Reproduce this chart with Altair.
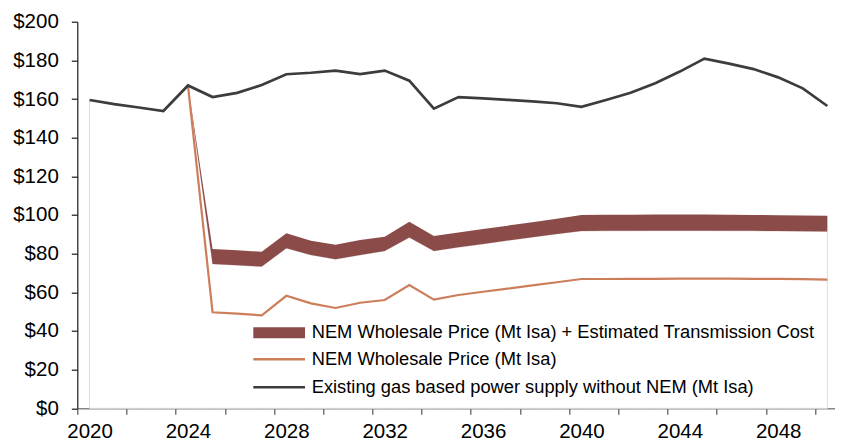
import altair as alt
import pandas as pd

# ---- data ----
years = [2020, 2021, 2022, 2023, 2024, 2025, 2026, 2027, 2028, 2029,
         2030, 2031, 2032, 2033, 2034, 2035, 2036, 2037, 2038, 2039,
         2040, 2041, 2042, 2043, 2044, 2045, 2046, 2047, 2048, 2049, 2050]

gas = [159.5, 157.4, 155.6, 153.8, 167.0, 161.0, 163.2, 167.2, 172.8, 173.6,
       174.7, 172.9, 174.7, 169.5, 155.0, 161.0, 160.3, 159.6, 158.8, 157.8,
       156.0, 159.5, 163.2, 168.2, 174.2, 180.9, 178.3, 175.5, 171.2, 165.5, 156.4]

nem_years = years[4:]
nem = [167.0, 49.7, 49.0, 48.1, 58.2, 54.3, 51.9, 54.6, 56.0, 63.8,
       56.2, 58.6, 60.3, 61.9, 63.6, 65.2, 66.9, 66.9, 67.0, 67.0,
       67.1, 67.1, 67.1, 67.0, 67.0, 66.8, 66.6]

band_lo = [167.0, 74.7, 74.0, 73.3, 82.8, 79.3, 77.1, 79.3, 81.4, 88.4,
           81.4, 83.3, 85.0, 86.8, 88.5, 90.2, 91.7, 91.8, 91.8, 91.9,
           91.9, 91.9, 91.8, 91.8, 91.7, 91.6, 91.5]
band_hi = [167.0, 82.4, 81.7, 81.0, 90.5, 86.7, 84.6, 87.1, 88.8, 96.5,
           89.1, 90.9, 92.7, 94.5, 96.3, 98.1, 100.0, 100.1, 100.1, 100.2,
           100.2, 100.2, 100.1, 100.0, 99.9, 99.8, 99.6]

y_ticks = [0, 20, 40, 60, 80, 100, 120, 140, 160, 180, 200]
x_tick_bounds = [2019.5, 2021.5, 2023.5, 2025.5, 2027.5, 2029.5, 2031.5, 2033.5,
                 2035.5, 2037.5, 2039.5, 2041.5, 2043.5, 2045.5, 2047.5, 2049.5]

legend_labels = [
    "NEM Wholesale Price (Mt Isa) + Estimated Transmission Cost",
    "NEM Wholesale Price (Mt Isa)",
    "Existing gas based power supply without NEM (Mt Isa)",
]

BAND = "#8b4b48"
ORANGE = "#cc7e5b"
DARK = "#3c3c3c"
FONT = "Liberation Sans"

df_gas = pd.DataFrame({"year": years, "value": gas})
df_nem = pd.DataFrame({"year": nem_years, "nem": nem, "lo": band_lo, "hi": band_hi})
df_base = pd.DataFrame({"year": years, "base": gas[:5] + band_lo[1:]})

x_scale = alt.Scale(domain=[2019.5, 2050.31], nice=False, zero=False)
y_scale = alt.Scale(domain=[0, 200], nice=False, zero=True)

x_axis = alt.Axis(
    values=x_tick_bounds,
    labelExpr="(datum.value - 2019.5) % 4 == 0 ? format(datum.value + 0.5, 'd') : ''",
    labelOffset=12.3, labelFlush=False, labelOverlap=False, grid=False, title=None,
    tickSize=6, labelPadding=7.5, labelFontSize=20.5, labelFont=FONT, labelColor="#000000",
    domainColor="#868686", tickColor="#555555", domainWidth=1.5, tickWidth=1.2,
)
y_axis = alt.Axis(
    values=y_ticks, labelExpr="'$' + datum.value", grid=False, title=None,
    tickSize=6, labelPadding=13, labelFontSize=20.5, labelFont=FONT, labelColor="#000000",
    domainColor="#1a1a1a", tickColor="#1a1a1a", domainWidth=1.2, tickWidth=1.2,
)

X = lambda: alt.X("year:Q", scale=x_scale, axis=x_axis)

base = alt.Chart(df_base).mark_area(
    fill="white", stroke="#e4dada", strokeWidth=1
).encode(x=X(), y=alt.Y("base:Q", scale=y_scale, axis=y_axis))

band = alt.Chart(df_nem).mark_area(color=BAND, opacity=1).encode(
    x=X(), y=alt.Y("lo:Q", scale=y_scale, axis=y_axis), y2="hi:Q"
)

nem_line = alt.Chart(df_nem).mark_line(color=ORANGE, strokeWidth=2.2).encode(
    x=X(), y=alt.Y("nem:Q", scale=y_scale, axis=y_axis)
)

gas_line = alt.Chart(df_gas).mark_line(color=DARK, strokeWidth=2.7).encode(
    x=X(), y=alt.Y("value:Q", scale=y_scale, axis=y_axis)
)

# ---- manual legend (pixel positions inside the plot area) ----
one = pd.DataFrame({"k": [0]})
leg_sym_x0, leg_sym_x1, leg_text_x = 176.0, 227.7, 234.4
leg_rows_y = [311.1, 337.6, 365.6]
leg_text_y = [316.6, 343.3, 371.6]
leg_styles = [(BAND, 11), (ORANGE, 2.4), (DARK, 2.6)]

legend_layers = []
for (col, sw), ry, ty, lab in zip(leg_styles, leg_rows_y, leg_text_y, legend_labels):
    legend_layers.append(
        alt.Chart(one).mark_rule(color=col, strokeWidth=sw, strokeCap="butt").encode(
            x=alt.value(leg_sym_x0), x2=alt.value(leg_sym_x1), y=alt.value(ry)
        )
    )
    legend_layers.append(
        alt.Chart(one).mark_text(
            align="left", baseline="alphabetic", font=FONT, fontSize=18.3, color="#000000"
        ).encode(x=alt.value(leg_text_x), y=alt.value(ty), text=alt.value(lab))
    )

chart = alt.layer(base, band, nem_line, gas_line, *legend_layers).properties(
    width=757.7,
    height=386.6,
    padding={"left": 69.3, "top": 13.7, "right": 0, "bottom": 40},
    autosize=alt.AutoSizeParams(type="none"),
    background="white",
).configure_view(stroke=None)

chart.save("out.html", embed_options={"renderer": "svg", "actions": False})
